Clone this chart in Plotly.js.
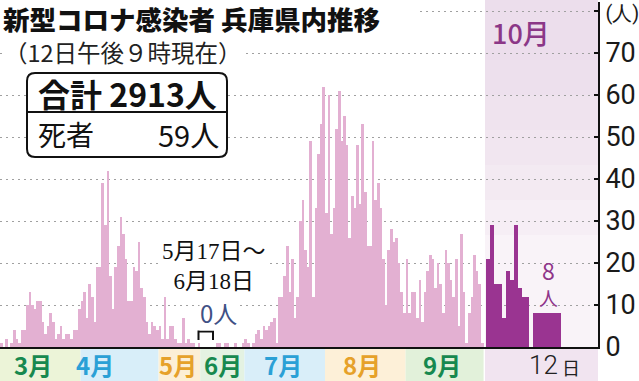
<!DOCTYPE html>
<html>
<head>
<meta charset="utf-8">
<script src="https://cdn.plot.ly/plotly-3.0.1.min.js"></script>
<style>
html,body{margin:0;padding:0;background:#fff;}
#chart{width:639px;height:381px;}
</style>
</head>
<body>
<div id="chart"></div>
<script>
// ---- Data (daily new cases, Hyogo) ----
// 3/1 .. 5/16 (one value per day)
const marchToMay16 = [
  1,0,2,0,1,4,2,1,4,4,10,13,10,9,11,11,6,3,5,8,6,2,3,5,2,3,3,2,4,4,9,
  11,13,7,15,12,6,19,19,39,29,42,17,9,19,24,31,27,21,11,11,19,18,25,14,12,6,3,6,5,4,
  5,2,12,2,5,5,2,1,1,7,1,2,1,1,0,1
];
// 5/17 .. 6/18 : 0 cases (compressed on the axis)
const zeroPeriodLabel = "5月17日～<br>6月18日";
const zeroPeriodValue = "0人";
// 6/19 .. 9/30 (one value per day)
const june19ToSep30 = [
  0,1,1,0,1,1,0,0,1,0,0,1,
  2,1,0,1,3,4,2,5,4,5,6,7,1,12,12,17,24,13,21,7,12,30,35,23,19,49,12,33,46,53,62,
  32,60,27,33,52,61,49,55,48,26,36,33,48,34,53,37,24,24,49,35,39,33,21,10,23,28,25,26,20,13,8,
  21,8,13,13,7,16,6,13,18,22,21,14,20,15,8,23,20,16,12,21,5,27,13,1,8,12,22,18,15,1
];
// October 1..12 as drawn (steps of the enlarged October part)
const octoberSteps = [21,29,15,15,7,18,16,29,14,12,12,0,8,8,8,8,8,8,8];
const latestValue = 8;

const yTickValues = [0,10,20,30,40,50,60,70,80];
const yTickText = ['0','10','20','30','40','50','60','70','<span style="font-size:20px">(人)</span>'];
const monthLabels = ['3月','4月','5月','6月','7月','8月','9月'];

// ---- Geometry helpers ----
const PLOT_W = 598, PLOT_BOTTOM = 347, PLOT_H = 345;
const SLOTS = 230;                       // axis units (1 slot = 1 day on the main part)
const slotOfPx = px => px * SLOTS / PLOT_W;
const px2x = px => px / PLOT_W;
const py2y = py => (PLOT_BOTTOM - py) / PLOT_H;

// slots: March..May16, then 5-slot compressed gap, then June19..Sep30
const gapSlots = 5;
const resumeSlot = marchToMay16.length + gapSlots;
const pinkX = [], pinkY = [];
marchToMay16.forEach((v,i)=>{pinkX.push(i+0.5); pinkY.push(v);});
june19ToSep30.forEach((v,i)=>{pinkX.push(resumeSlot+i+0.5); pinkY.push(v);});

const octStart = slotOfPx(486);
const octStep = slotOfPx(3.95);
const octX = octoberSteps.map((v,i)=>octStart + (i+0.5)*octStep);

// month band edges in slot units
const edges = [0, 31, 61, marchToMay16.length, resumeSlot + 12, resumeSlot + 12 + 31, resumeSlot + 12 + 62, resumeSlot + june19ToSep30.length];

const traces = [
  {type:'bar', x:pinkX, y:pinkY, width:1, marker:{color:'#e3b0d2', line:{width:0}}, hoverinfo:'skip'},
  {type:'bar', x:octX, y:octoberSteps, width:octStep, marker:{color:'#9a3491', line:{width:0}}, hoverinfo:'skip'}
];

const shapes = [];
// month colour band under the axis
const bandColors = ['#ecf4d8','#d8eef9','#fcefd6','#e4f2e2','#d9eef9','#fdf0d8','#e2f1da'];
for (let m=0; m<7; m++) {
  shapes.push({type:'rect', xref:'x', yref:'paper', x0:edges[m], x1:edges[m+1], y0:py2y(381), y1:py2y(348),
    fillcolor:bandColors[m], line:{width:0}, layer:'below'});
}
// October background (lavender, fading downward)
shapes.push({type:'rect', xref:'x', yref:'paper', x0:slotOfPx(485), x1:SLOTS, y0:py2y(381), y1:py2y(0),
  fillcolor:'#f9f3f8', line:{width:0}, layer:'below'});
for (let k=0;k<6;k++){
  shapes.push({type:'rect', xref:'x', yref:'paper', x0:slotOfPx(485), x1:SLOTS, y0:py2y(60+k*35), y1:py2y(0),
    fillcolor:'#ead7e8', opacity:0.17, line:{width:0}, layer:'below'});
}
shapes.push({type:'rect', xref:'x', yref:'paper', x0:slotOfPx(485), x1:SLOTS, y0:py2y(381), y1:py2y(348),
  fillcolor:'#f1e4f0', line:{width:0}, layer:'below'});
// white backdrop behind the headline
shapes.push({type:'rect', xref:'paper', yref:'paper', x0:0, x1:px2x(416), y0:py2y(33), y1:py2y(0),
  fillcolor:'#ffffff', line:{width:0}, layer:'above'});
// bracket for the zero period
const by0 = (PLOT_BOTTOM-340)/4.2, by1 = (PLOT_BOTTOM-331.5)/4.2;
shapes.push({type:'path', xref:'x', yref:'y',
  path:`M ${slotOfPx(198.5)},${by0} L ${slotOfPx(198.5)},${by1} L ${slotOfPx(213)},${by1} L ${slotOfPx(213)},${by0}`,
  line:{color:'#111', width:2}, layer:'above'});
// totals box (rounded)
(function(){
  const L=27,R=227,T=73,B=157,r=8;
  const X=px2x, Y=py2y;
  const p = `M ${X(L+r)},${Y(T)} L ${X(R-r)},${Y(T)} Q ${X(R)},${Y(T)} ${X(R)},${Y(T+r)} L ${X(R)},${Y(B-r)} Q ${X(R)},${Y(B)} ${X(R-r)},${Y(B)} L ${X(L+r)},${Y(B)} Q ${X(L)},${Y(B)} ${X(L)},${Y(B-r)} L ${X(L)},${Y(T+r)} Q ${X(L)},${Y(T)} ${X(L+r)},${Y(T)} Z`;
  shapes.push({type:'path', xref:'paper', yref:'paper', path:p, fillcolor:'#ffffff', line:{color:'#111', width:2}, layer:'above'});
  shapes.push({type:'line', xref:'paper', yref:'paper', x0:X(L), x1:X(R), y0:Y(112), y1:Y(112), line:{color:'#111', width:2}, layer:'above'});
})();

const CJK = 'Noto Sans CJK JP, sans-serif';
function ann(text, px, py, font, opts) {
  return Object.assign({text, xref:'paper', yref:'paper', x:px2x(px), y:py2y(py), showarrow:false,
    xanchor:'center', yanchor:'middle', font}, opts||{});
}
const monthColors = ['#17894f','#2aa0d6','#e6a12a','#17894f','#2aa0d6','#e6a12a','#17894f'];
const monthCenters = [33, 95, 178, 223, 283, 362, 442];

const annotations = [
  ann('（12日午後９時現在）', 3, 52, {family:CJK, size:23.5, color:'#222'}, {xanchor:'left', bgcolor:'#ffffff', borderpad:0}),
  ann('合計 2913人', 36, 93, {family:CJK, size:32, color:'#111', weight:700}, {xanchor:'left'}),
  ann('死者', 36, 134, {family:CJK, size:28, color:'#111'}, {xanchor:'left'}),
  ann('59人', 221, 134, {family:CJK, size:29, color:'#111'}, {xanchor:'right'}),
  ann(zeroPeriodLabel, 214, 266, {family:'Liberation Serif, Noto Sans CJK JP, serif', size:23, color:'#111'}, {bgcolor:'#ffffff', borderpad:0}),
  ann(zeroPeriodValue, 218, 312, {family:CJK, size:24, color:'#3f5185'}, {bgcolor:'#ffffff', borderpad:0}),
  ann(String(latestValue), 548, 270, {family:CJK, size:23, color:'#8f3589'}),
  ann('人', 548, 297, {family:CJK, size:19, color:'#8f3589'}),
  ann('10月', 521, 32, {family:CJK, size:27, color:'#8b3787', weight:500}),
  ann('12', 560, 365, {family:'Roboto, sans-serif', size:26, color:'#222', weight:300}, {xanchor:'right'}),
  ann('日', 560, 367, {family:CJK, size:18, color:'#222'}, {xanchor:'left'})
];
monthLabels.forEach((t,i)=>{
  annotations.push(ann(t, monthCenters[i], 364, {family:CJK, size:24, color:monthColors[i], weight:700}));
});

const layout = {
  width:639, height:381,
  margin:{l:0, r:41, t:2, b:34, pad:0},
  paper_bgcolor:'#ffffff', plot_bgcolor:'rgba(0,0,0,0)',
  showlegend:false, barmode:'overlay', bargap:0,
  title:{text:'新型コロナ感染者 兵庫県内推移', font:{family:CJK, size:26.5, color:'#111', weight:900},
    xref:'container', yref:'container', x:3/639, xanchor:'left', y:1-21/381, yanchor:'middle', pad:{t:0,b:0,l:0,r:0}},
  xaxis:{range:[0,SLOTS], showticklabels:false, ticks:'', showgrid:false, zeroline:false,
    showline:true, linecolor:'#111', linewidth:2, fixedrange:true, automargin:false},
  yaxis:{range:[0,(PLOT_BOTTOM-2)/4.2], side:'right', tickmode:'array', tickvals:yTickValues, ticktext:yTickText,
    ticks:'inside', ticklen:4, tickwidth:1.5, tickcolor:'#111',
    showline:true, linecolor:'#111', linewidth:2, zeroline:false,
    showgrid:true, gridcolor:'#a0a0a0', gridwidth:1, griddash:'2px,4px',
    tickfont:{family:'Roboto, sans-serif', size:27, color:'#1a1a1a', weight:400},
    fixedrange:true, automargin:false},
  shapes, annotations
};

Plotly.newPlot('chart', traces, layout, {staticPlot:true, displayModeBar:false});
</script>
</body>
</html>
